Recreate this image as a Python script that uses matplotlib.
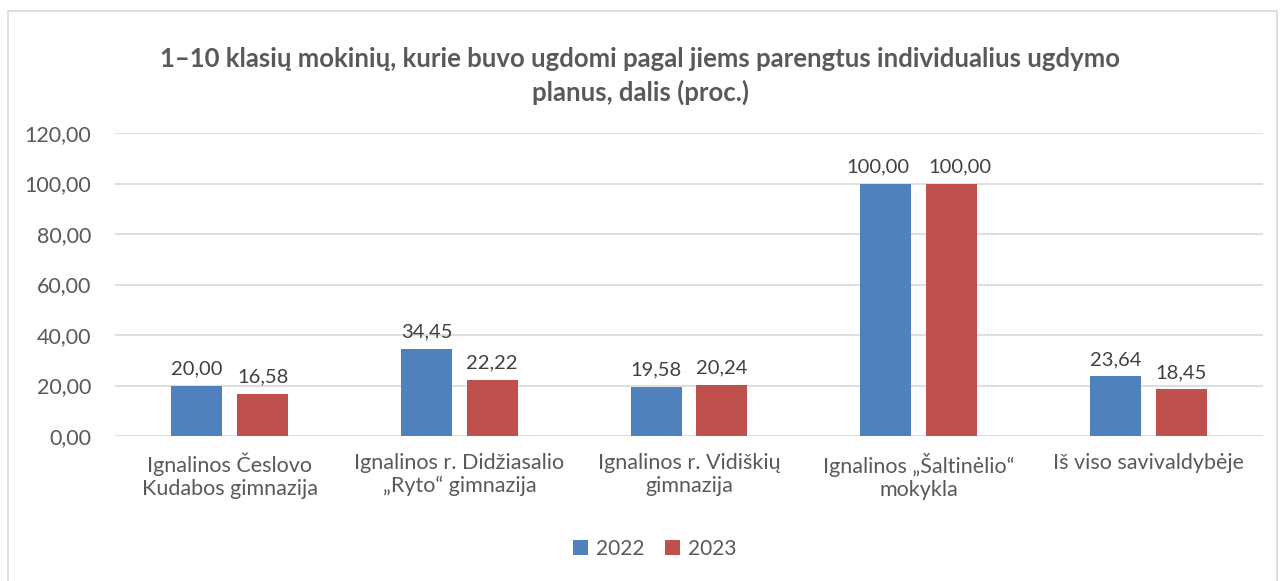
import matplotlib
matplotlib.use("Agg")
import matplotlib.pyplot as plt
import numpy as np
from matplotlib.patches import Rectangle

plt.rcParams['font.family'] = ['Lato', 'DejaVu Sans']

categories = ["Ignalinos Česlovo\nKudabos gimnazija",
              "Ignalinos r. Didžiasalio\n„Ryto“ gimnazija",
              "Ignalinos r. Vidiškių\ngimnazija",
              "Ignalinos „Šaltinėlio“\nmokykla",
              "Iš viso savivaldybėje"]
series_names = ["2022", "2023"]
values_2022 = [20.00, 34.45, 19.58, 100.00, 23.64]
values_2023 = [16.58, 22.22, 20.24, 100.00, 18.45]
yticks = [0, 20, 40, 60, 80, 100, 120]
title = "1–10 klasių mokinių, kurie buvo ugdomi pagal jiems parengtus individualius ugdymo\nplanus, dalis (proc.)"

colors = ["#4F81BD", "#C0504D"]
text_color = "#595959"

fig = plt.figure(figsize=(12.83, 5.81), dpi=100)
fig.patches.append(Rectangle((8/1283, -0.01), (1277-8)/1283, 1 - 11/581 + 0.01,
                             transform=fig.transFigure, fill=False,
                             edgecolor="#D9D9D9", linewidth=1.2))

ax = fig.add_axes([115/1283, 1 - 436/581, (1263-115)/1283, (436-133)/581])
x = np.arange(len(categories))
w = 0.222
off = 0.143
b1 = ax.bar(x - off, values_2022, w, color=colors[0], label=series_names[0], zorder=3)
b2 = ax.bar(x + off, values_2023, w, color=colors[1], label=series_names[1], zorder=3)

def fmt(v):
    return f"{v:.2f}".replace(".", ",")

for bars, vals, sign in ((b1, values_2022, -1), (b2, values_2023, 1)):
    for rect, v in zip(bars, vals):
        dx = sign * 6 if v >= 100 else 0
        ax.annotate(fmt(v), (rect.get_x() + rect.get_width()/2, v),
                    xytext=(dx, 6), textcoords="offset points",
                    ha="center", va="bottom", fontsize=14.5, color="#404040")

ax.set_xlim(-0.5, len(categories) - 0.5)
ax.set_ylim(0, 120)
ax.set_yticks(yticks)
ax.set_yticklabels([fmt(v) for v in yticks], fontsize=15.5, color=text_color)
ax.set_xticks(x)
ax.set_xticklabels(categories, fontsize=15.5, color=text_color, linespacing=1.2)
ax.tick_params(axis="x", length=0, pad=12)
ax.tick_params(axis="y", length=0, pad=17)
ax.grid(axis="y", color="#D9D9D9", linewidth=1.2, zorder=0)
for s in ax.spines.values():
    s.set_visible(False)

fig.text(640/1283, 1 - 76/581, title, ha="center", va="center", fontsize=18.5,
         fontweight="bold", color=text_color, linespacing=1.45)

fig.legend(handles=[b1, b2], labels=series_names, loc="center",
           bbox_to_anchor=(655/1283, 1 - 549/581), ncol=2, frameon=False,
           fontsize=15, handlelength=0.7, handleheight=0.7, columnspacing=1.0,
           handletextpad=0.4, labelcolor=text_color)

fig.savefig("out.png", dpi=100)
